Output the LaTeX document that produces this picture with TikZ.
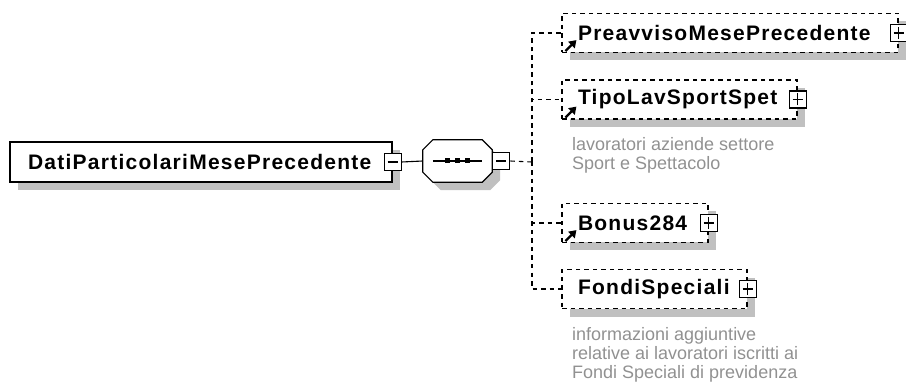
\documentclass[tikz,border=0pt]{standalone}
\usepackage{fontspec}
\setmainfont{Liberation Sans}
\newfontfamily\lblfont{Liberation Sans}[LetterSpace=6]
\usetikzlibrary{shadows,arrows.meta}
\definecolor{shadowgray}{RGB}{192,192,192}
\definecolor{descgray}{RGB}{145,145,145}
\hyphenpenalty=10000
% octagon of a sequence compositor: #1 node, #2 #3 shift
\newcommand\octoutline[3]{([shift={(10pt+#2,#3)}]#1.north west) -- ([shift={(-10pt+#2,#3)}]#1.north east)
  -- ([shift={(#2,-10pt+#3)}]#1.north east) -- ([shift={(#2,10pt+#3)}]#1.south east)
  -- ([shift={(-10pt+#2,#3)}]#1.south east) -- ([shift={(10pt+#2,#3)}]#1.south west)
  -- ([shift={(#2,10pt+#3)}]#1.south west) -- ([shift={(#2,-10pt+#3)}]#1.north west) -- cycle}
\tikzset{
  boxshadow/.style={drop shadow={shadow xshift=8pt, shadow yshift=-8pt, opacity=1, fill=shadowgray}},
  elem/.style={draw, fill=white, line width=1.2pt, minimum height=39pt, inner xsep=16pt, align=left,
    font=\lblfont\bfseries\fontsize{21}{25}\selectfont, boxshadow},
  refelem/.style={elem, dash pattern=on 4.5pt off 4pt},
  expbox/.style={draw, fill=white, line width=1.1pt, minimum size=17pt, inner sep=0pt},
  minusbox/.style={expbox, path picture={
    \draw[line width=1.1pt] ([xshift=-5pt]path picture bounding box.center) -- ([xshift=5pt]path picture bounding box.center);}},
  plusbox/.style={expbox, path picture={
    \draw[line width=1.1pt] ([xshift=-5pt]path picture bounding box.center) -- ([xshift=5pt]path picture bounding box.center);
    \draw[line width=1.1pt] ([yshift=-6pt]path picture bounding box.center) -- ([yshift=6pt]path picture bounding box.center);}},
  seqbox/.style={minimum width=69pt, minimum height=42pt, inner sep=0pt},
  conn/.style={line width=1.1pt},
  optconn/.style={line width=1.1pt, dash pattern=on 4.5pt off 4pt},
  refarrow/.style={line width=2.4pt, -{Triangle[length=7pt,width=9pt]}},
  desc/.style={text=descgray, align=left, inner sep=0pt, font=\fontsize{18}{19}\selectfont}
}
\begin{document}
\begin{tikzpicture}[x=1pt, y=-1pt]
\useasboundingbox (0,0) rectangle (906,385);
% root element and its sequence
\node[elem, text width=346pt, inner xsep=18pt, minimum height=40pt] (root) at (201,162) {DatiParticolariMesePrecedente};
\node[minusbox] (rminus) at (root.east) {};
\node[seqbox] (seq) at (457.5,161) {};
\fill[shadowgray] \octoutline{seq}{8pt}{-8pt};
\draw[fill=white, line width=1.2pt] \octoutline{seq}{0pt}{0pt};
\draw[conn] ([xshift=10pt]seq.west) -- ([xshift=-10pt]seq.east);
\foreach \dx in {-10,0,10}
  \fill ([xshift=\dx pt]seq.center) +(-2.5,-2.5) rectangle +(2.5,2.5);
\node[minusbox, anchor=west] (sminus) at (seq.east) {};
\draw[conn] (rminus.east) -- (seq.west);
\coordinate (junc) at (532,162);
% children
\node[refelem, text width=304pt] (c1) at (730,33) {PreavvisoMesePrecedente};
\node[refelem, text width=203pt] (c2) at (679.5,99.5) {TipoLavSportSpet};
\node[refelem, text width=114pt] (c3) at (635,223) {Bonus284};
\node[refelem, text width=153pt] (c4) at (654.5,289) {FondiSpeciali};
\foreach \c in {c1,c2,c3,c4}
  \node[plusbox] (\c plus) at (\c.east) {};
\foreach \c in {c1,c2,c3}
  \draw[refarrow] ([shift={(4pt,2pt)}]\c.south west) -- ++(11,-11);
\draw[optconn] (sminus.east) -- (junc);
\foreach \c in {c1,c2,c3,c4}
  \draw[optconn] (junc) |- (\c.west);
% annotations
\node[desc, anchor=base west] (d2) at (572,170) {lavoratori aziende settore\\Sport e Spettacolo};
\node[desc, anchor=base west] (d4) at (572,378) {informazioni aggiuntive\\relative ai lavoratori iscritti ai\\Fondi Speciali di previdenza};
\end{tikzpicture}
\end{document}
